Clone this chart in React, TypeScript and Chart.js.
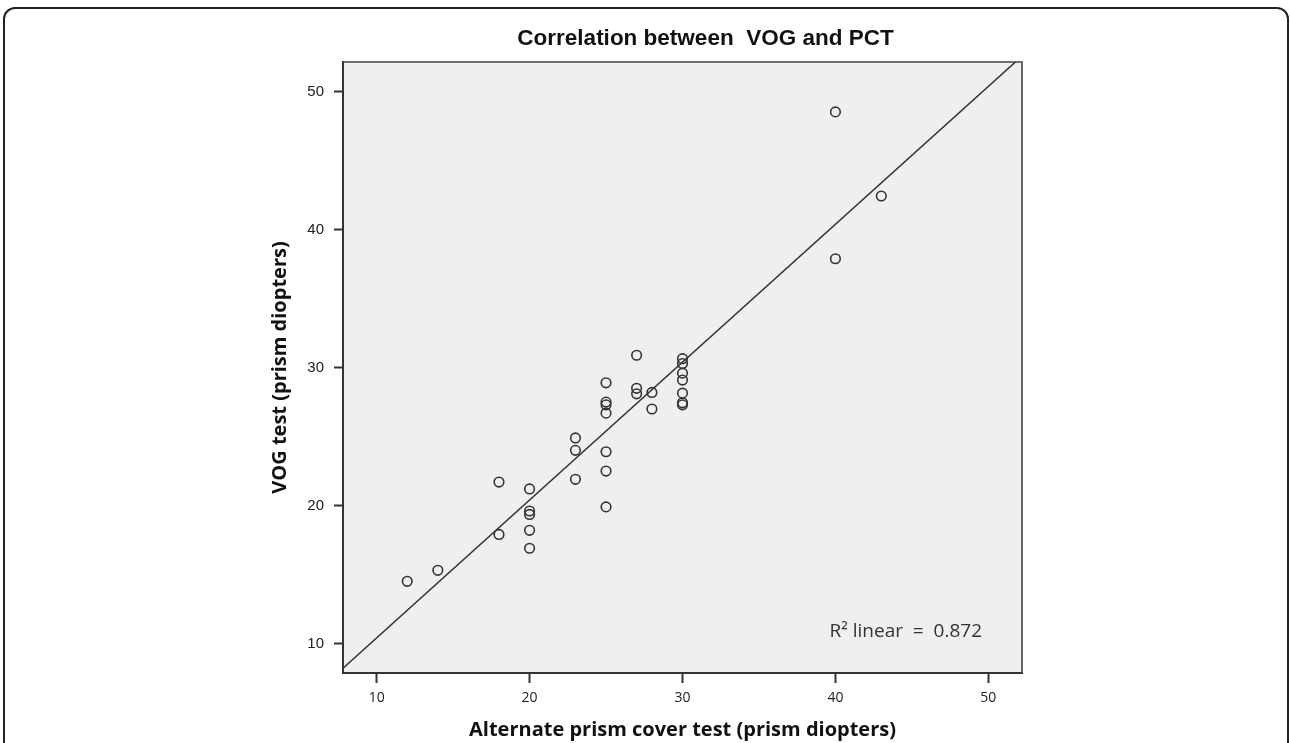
import React, { useEffect, useRef } from "react";
import { Chart, registerables } from "chart.js";

Chart.register(...registerables);

// ---- Data ----
const chartTitle = "Correlation between  VOG and PCT";
const xAxisTitle = "Alternate prism cover test (prism diopters)";
const yAxisTitle = "VOG test (prism diopters)";
const fitLabel = "R\u00B2 linear  =  0.872";

const pctValues = [
  12, 14, 18, 18, 20, 20, 20, 20, 20, 23, 23, 23, 25, 25, 25, 25, 25, 25, 25,
  27, 27, 27, 28, 28, 30, 30, 30, 30, 30, 30, 30, 40, 40, 43,
];
const vogValues = [
  14.5, 15.3, 21.7, 17.9, 21.2, 19.6, 19.35, 18.2, 16.9, 24.9, 24.0, 21.9,
  28.9, 27.5, 27.3, 26.7, 23.9, 22.5, 19.9, 30.9, 28.5, 28.1, 28.2, 27.0,
  30.65, 30.3, 29.6, 29.1, 28.15, 27.45, 27.3, 48.55, 37.9, 42.45,
];

const xTicks = [10, 20, 30, 40, 50];
const yTicks = [10, 20, 30, 40, 50];
const xRange = [7.8, 52.2];
const yRange = [7.85, 52.17];

// fitted regression line
const fitSlope = 1.0;
const fitIntercept = 0.4;
const fitX = [7.8, 52.2];

export default function App() {
  const canvasRef = useRef<HTMLCanvasElement | null>(null);

  useEffect(() => {
    document.body.style.margin = "0";
    document.body.style.overflow = "hidden";
    const canvas = canvasRef.current;
    if (!canvas) return;

    const decor = {
      id: "decor",
      beforeDraw(chart: any) {
        const { ctx, chartArea: a } = chart;
        ctx.save();
        ctx.fillStyle = "#efefef";
        ctx.fillRect(a.left, a.top, a.right - a.left, a.bottom - a.top);
        ctx.restore();
      },
      afterDraw(chart: any) {
        const { ctx, chartArea: a } = chart;
        ctx.save();
        ctx.strokeStyle = "#444";
        ctx.lineWidth = 1.6;
        ctx.beginPath();
        ctx.moveTo(a.left, a.top);
        ctx.lineTo(a.right, a.top);
        ctx.lineTo(a.right, a.bottom);
        ctx.stroke();

        ctx.fillStyle = "#111";
        ctx.font = 'bold 22.5px "Liberation Sans", Arial, sans-serif';
        ctx.textAlign = "center";
        ctx.textBaseline = "alphabetic";
        ctx.fillText(chartTitle, (a.left + a.right) / 2 + 23, a.top - 17);

        ctx.fillStyle = "#333";
        ctx.font = '19px "Open Sans", sans-serif';
        ctx.textAlign = "right";
        ctx.fillText(fitLabel, a.right - 40, a.bottom - 36);
        ctx.restore();
      },
    };

    const chart = new Chart(canvas, {
      type: "scatter",
      data: {
        datasets: [
          {
            label: "points",
            data: pctValues.map((x, i) => ({ x, y: vogValues[i] })),
            pointRadius: 4.8,
            pointBorderWidth: 1.6,
            borderColor: "#333",
            backgroundColor: "rgba(0,0,0,0)",
            pointBackgroundColor: "rgba(0,0,0,0)",
            pointBorderColor: "#333",
          },
          {
            label: "fit",
            data: fitX.map((x) => ({ x, y: fitSlope * x + fitIntercept })),
            showLine: true,
            pointRadius: 0,
            borderColor: "#333",
            borderWidth: 1.5,
            fill: false,
          },
        ],
      },
      options: {
        responsive: false,
        animation: false,
        devicePixelRatio: 1,
        layout: { padding: { left: 264, top: 62, right: 268, bottom: 0 } },
        plugins: {
          legend: { display: false },
          tooltip: { enabled: false },
          title: { display: false },
        },
        scales: {
          x: {
            type: "linear",
            min: xRange[0],
            max: xRange[1],
            afterBuildTicks: (s: any) => {
              s.ticks = xTicks.map((v) => ({ value: v }));
            },
            afterFit: (s: any) => {
              s.height = 70;
            },
            ticks: {
              color: "#222",
              padding: 7,
              font: { family: "Open Sans", size: 14 },
            },
            grid: {
              drawOnChartArea: false,
              drawTicks: true,
              tickLength: 10,
              tickColor: "#333",
              tickWidth: 2,
            },
            border: { display: true, color: "#333", width: 2 },
            title: {
              display: true,
              text: xAxisTitle,
              color: "#111",
              font: { family: "Open Sans", size: 20, weight: "bold" },
              padding: { top: 0, bottom: 1 },
            },
          },
          y: {
            type: "linear",
            min: yRange[0],
            max: yRange[1],
            afterBuildTicks: (s: any) => {
              s.ticks = yTicks.map((v) => ({ value: v }));
            },
            afterFit: (s: any) => {
              s.width = 79;
            },
            ticks: {
              color: "#222",
              padding: 10,
              font: { family: "Liberation Sans", size: 15 },
            },
            grid: {
              drawOnChartArea: false,
              drawTicks: true,
              tickLength: 9,
              tickColor: "#333",
              tickWidth: 2,
            },
            border: { display: true, color: "#333", width: 2 },
            title: {
              display: true,
              text: yAxisTitle,
              color: "#111",
              font: { family: "Open Sans", size: 20, weight: "bold" },
              padding: { top: 4, bottom: 0 },
            },
          },
        },
      },
      plugins: [decor],
    } as any);

    return () => chart.destroy();
  }, []);

  return (
    <div
      style={{
        position: "relative",
        width: 1290,
        height: 743,
        overflow: "hidden",
        background: "#fff",
      }}
    >
      <div
        style={{
          position: "absolute",
          left: 3,
          top: 7,
          width: 1286,
          height: 800,
          boxSizing: "border-box",
          border: "2px solid #222",
          borderRadius: 12,
        }}
      />
      <canvas
        ref={canvasRef}
        width={1290}
        height={743}
        style={{ position: "absolute", left: 0, top: 0, display: "block" }}
      />
    </div>
  );
}
